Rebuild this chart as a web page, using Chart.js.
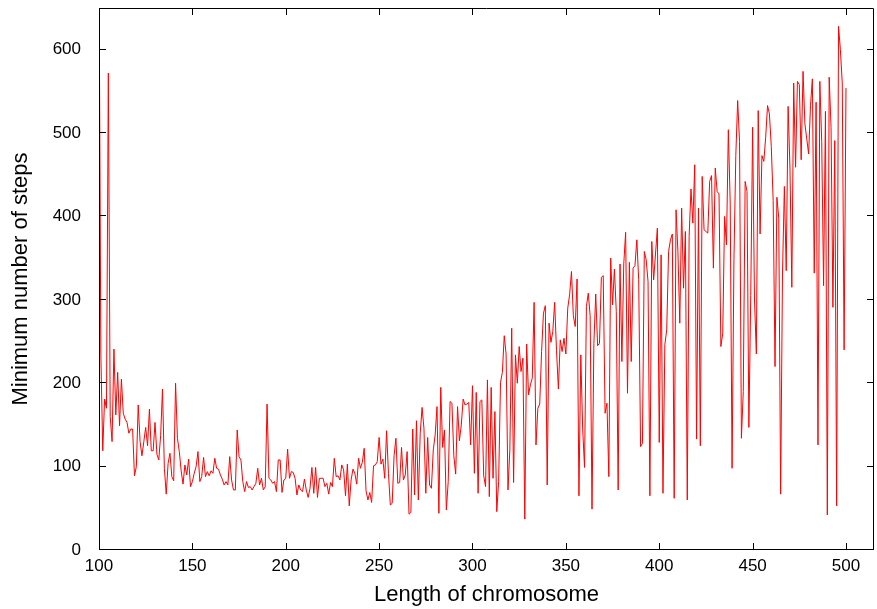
<!DOCTYPE html>
<html>
<head>
<meta charset="utf-8">
<script src="https://cdn.jsdelivr.net/npm/chart.js@4.4.0/dist/chart.umd.min.js"></script>
<style>
  html, body { margin: 0; padding: 0; background: #fff; }
</style>
</head>
<body>
<canvas id="min_steps" width="877" height="609"></canvas>
<script>
  // chromosome lengths run from 100 to 500, one value per length
  var firstLength = 100;
  var minSteps = [
    700, 234, 119, 181, 170, 572, 160, 130, 241, 162, 213, 149, 205, 164, 157, 153, 140, 145, 145, 89,
    100, 174, 130, 113, 130, 147, 125, 169, 119, 119, 153, 115, 108, 137, 193, 98,
    67, 104, 116, 88, 83, 200, 134, 118, 95, 79, 102, 90, 109, 76, 82, 92, 100, 118, 82, 88,
    111, 88, 94, 89, 95, 92, 110, 98, 97, 90, 85, 78, 82, 78, 112,
    84, 72, 72, 144, 112, 108, 82, 70, 82, 75, 76, 72, 76, 80, 98, 78, 86, 72, 76, 175,
    86, 84, 80, 82, 70, 108, 108, 69, 84, 86, 121, 86, 94, 93,
    86, 66, 78, 72, 70, 85, 72, 63, 74, 99, 68, 99, 63, 86, 86, 86, 76, 80, 67, 81,
    76, 110, 88, 89, 84, 102, 96, 65, 103, 53, 84, 97, 92, 79, 110,
    98, 105, 122, 71, 60, 69, 57, 101, 102, 106, 135, 103, 109, 86, 143, 92, 54, 56, 113, 134,
    80, 81, 123, 84, 90, 118, 43, 45, 145, 66, 155, 60, 140, 171, 146,
    68, 135, 78, 74, 120, 138, 172, 44, 195, 123, 144, 48, 82, 178, 176, 113, 91, 172, 131, 150,
    181, 174, 175, 177, 126, 197, 92, 189, 68, 178, 180, 89, 76, 204, 64,
    195, 86, 166, 46, 82, 201, 213, 257, 235, 72, 120, 266, 81, 234, 200, 244, 214, 230, 37, 247,
    186, 198, 206, 297, 126, 170, 175, 238, 284,
    293, 78, 272, 249, 262, 297, 239, 193, 252, 238, 254, 235, 290, 306, 334, 281, 268, 325, 65, 234,
    145, 99, 292, 308, 281, 49, 248, 307, 245,
    248, 327, 329, 164, 176, 88, 350, 294, 337, 286, 72, 343, 226, 343, 381, 188, 345, 226, 338, 341,
    372, 324, 124, 128, 358, 348, 322,
    65, 370, 324, 355, 386, 129, 354, 68, 246, 264, 358, 372, 379, 62, 408, 358, 272, 410, 314, 382,
    60, 376, 433, 392, 462, 133, 410, 125, 448,
    384, 382, 380, 442, 449, 338, 458, 430, 427, 244, 260, 400, 366, 504, 416, 98, 348, 473, 539, 490,
    134, 190, 442, 430, 147, 305, 507, 301, 235, 527, 379,
    473, 466, 495, 533, 523, 484, 419, 220, 423, 398, 67, 331, 436, 335, 532, 458, 315, 560, 459, 562,
    558, 468, 574, 511, 493, 475, 533, 565, 332, 537, 126, 562, 490, 317, 526, 42, 567, 507, 291, 491,
    53, 628, 600, 560, 240, 554
  ];
  var lengthTicks = [100, 150, 200, 250, 300, 350, 400, 450, 500];
  var stepTicks = [0, 100, 200, 300, 400, 500, 600];

  var points = minSteps.map(function (v, i) {
    return { x: firstLength + i, y: v };
  });

  // gnuplot look: closed box with small ticks pointing inwards on all sides
  var gnuplotFrame = {
    id: 'gnuplotFrame',
    afterDraw: function (chart) {
      var ctx = chart.ctx;
      var a = chart.chartArea;
      var xs = chart.scales.x, ys = chart.scales.y;
      var len = 7;
      ctx.save();
      ctx.strokeStyle = '#000';
      ctx.lineWidth = 1;
      ctx.beginPath();
      ctx.rect(Math.round(a.left) + 0.5, Math.round(a.top) + 0.5,
               Math.round(a.right - a.left) - 1, Math.round(a.bottom - a.top) - 1);
      lengthTicks.forEach(function (t) {
        var px = Math.round(xs.getPixelForValue(t)) + 0.5;
        ctx.moveTo(px, a.bottom);
        ctx.lineTo(px, a.bottom - len);
        ctx.moveTo(px, a.top);
        ctx.lineTo(px, a.top + len);
      });
      stepTicks.forEach(function (t) {
        var py = Math.round(ys.getPixelForValue(t)) - 0.5;
        ctx.moveTo(a.left, py);
        ctx.lineTo(a.left + len, py);
        ctx.moveTo(a.right, py);
        ctx.lineTo(a.right - len, py);
      });
      ctx.stroke();
      ctx.restore();
    }
  };

  var labelFont = { family: '"Liberation Sans", Arial, sans-serif', size: 17 };
  var titleFont = { family: '"Liberation Sans", Arial, sans-serif', size: 22 };

  var minStepsChart = new Chart(document.getElementById('min_steps'), {
    type: 'line',
    data: {
      datasets: [{
        data: points,
        borderColor: '#ff0000',
        borderWidth: 1,
        pointRadius: 0,
        tension: 0,
        fill: false
      }]
    },
    options: {
      responsive: false,
      animation: false,
      devicePixelRatio: 1,
      layout: { padding: { top: 8, right: 3, left: 0, bottom: 0 } },
      plugins: {
        legend: { display: false },
        tooltip: { enabled: false }
      },
      scales: {
        x: {
          type: 'linear',
          min: 100,
          max: 515,
          grid: { display: false, drawTicks: false },
          border: { display: false },
          afterBuildTicks: function (scale) {
            scale.ticks = lengthTicks.map(function (v) { return { value: v }; });
          },
          afterFit: function (scale) {
            scale.height = 59;
            scale.paddingLeft = 0;
            scale.paddingRight = 0;
          },
          ticks: { color: '#000', font: labelFont, padding: 6, maxRotation: 0 },
          title: {
            display: true,
            text: 'Length of chromosome',
            color: '#000',
            font: titleFont,
            padding: { top: 0, bottom: 1 }
          }
        },
        y: {
          min: 0,
          max: 650,
          grid: { display: false, drawTicks: false },
          border: { display: false },
          afterBuildTicks: function (scale) {
            scale.ticks = stepTicks.map(function (v) { return { value: v }; });
          },
          afterFit: function (scale) {
            scale.width = 99;
            scale.paddingTop = 0;
            scale.paddingBottom = 0;
          },
          ticks: { color: '#000', font: labelFont, padding: 18 },
          title: {
            display: true,
            text: 'Minimum number of steps',
            color: '#000',
            font: titleFont,
            padding: { top: 8, bottom: 0 }
          }
        }
      }
    },
    plugins: [gnuplotFrame]
  });
</script>
</body>
</html>
